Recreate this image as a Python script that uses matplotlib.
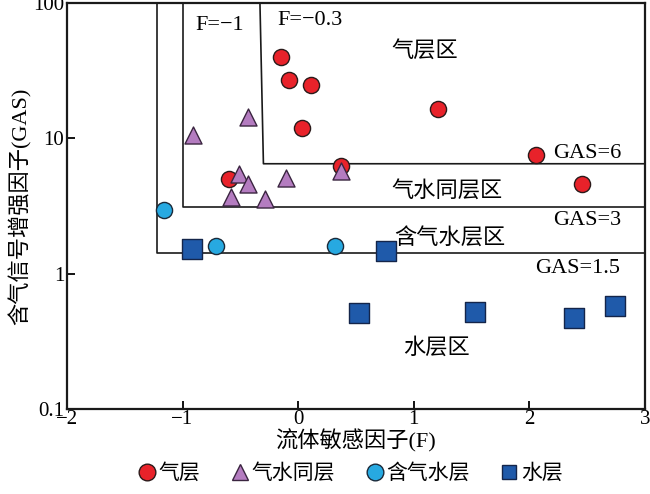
import matplotlib
matplotlib.use("Agg")
import matplotlib.pyplot as plt
from matplotlib.lines import Line2D

plt.rcParams['font.family'] = ['Liberation Serif', 'Noto Sans CJK SC']
plt.rcParams['axes.unicode_minus'] = True

# --- DATA ---
gas_f = [-0.15, -0.08, 0.11, 0.03, 1.21, 2.06, 2.46, 0.37, -0.60]
gas_v = [40, 27, 25, 12, 16.4, 7.5, 4.57, 6.3, 5.0]

mix_f = [-0.91, -0.43, -0.51, -0.43, -0.58, -0.29, -0.105, 0.375]
mix_v = [10.7, 14.5, 5.5, 4.57, 3.7, 3.55, 5.1, 5.7]

gw_f = [-1.16, -0.71, 0.32]
gw_v = [2.93, 1.59, 1.59]

wat_f = [-0.92, 0.757, 0.526, 1.53, 2.39, 2.74]
wat_v = [1.51, 1.48, 0.508, 0.52, 0.47, 0.57]

# zone boundaries (F, GAS)
b15_f, b15_g = -1.22, 1.43
b3_f, b3_g = -1.0, 3.1
b6_f_top, b6_f_bot, b6_g = -0.33, -0.30, 6.5

# --- PLOT ---
fig = plt.figure(figsize=(6.5, 4.94), dpi=100)
ax = fig.add_axes([0.103, 0.173, 0.889, 0.820])
ax.set_xlim(-2, 3)
ax.set_ylim(0.1, 100)
ax.set_yscale('log')

lc = '#1a1a1a'
lw = 1.2
ax.plot([b15_f, b15_f, 3], [100, b15_g, b15_g], color=lc, lw=lw, zorder=1)
ax.plot([b3_f, b3_f, 3], [100, b3_g, b3_g], color=lc, lw=lw, zorder=1)
ax.plot([b6_f_top, b6_f_bot, 3], [100, b6_g, b6_g], color=lc, lw=lw, zorder=1)

ec = '#2a1a1a'
ax.scatter(gas_f, gas_v, s=135, marker='o', c='#e8222a', edgecolors=ec, linewidths=1.0, zorder=3)
ax.scatter(mix_f, mix_v, s=150, marker='^', c='#b47cc0', edgecolors='#3a2540', linewidths=1.0, zorder=4)
ax.scatter(gw_f, gw_v, s=135, marker='o', c='#27a9e1', edgecolors='#1a2a3a', linewidths=1.0, zorder=3)
ax.scatter(wat_f, wat_v, s=200, marker='s', c='#1f5aaa', edgecolors='#14254a', linewidths=1.0, zorder=3)

fs = 16
ax.text(-0.89, 69, 'F=\u22121', fontsize=fs, ha='left', va='center')
ax.text(-0.175, 75, 'F=\u22120.3', fontsize=fs, ha='left', va='center')
ax.text(1.1, 44, '气层区', fontsize=fs, ha='center', va='center')
ax.text(2.5, 7.7, 'GAS=6', fontsize=fs, ha='center', va='center')
ax.text(1.29, 4.05, '气水同层区', fontsize=fs, ha='center', va='center')
ax.text(2.5, 2.47, 'GAS=3', fontsize=fs, ha='center', va='center')
ax.text(1.31, 1.82, '含气水层区', fontsize=fs, ha='center', va='center')
ax.text(2.42, 1.09, 'GAS=1.5', fontsize=fs, ha='center', va='center')
ax.text(1.2, 0.278, '水层区', fontsize=fs, ha='center', va='center')

ax.set_xticks([-2, -1, 0, 1, 2, 3])
ax.set_xticklabels(['\u22122', '\u22121', '0', '1', '2', '3'])
ax.set_yticks([0.1, 1, 10, 100])
ax.set_yticklabels(['0.1', '1', '10', '100'])
ax.minorticks_off()
ax.tick_params(direction='in', length=6, width=1.3, labelsize=15, pad=2)
ax.tick_params(axis='x', pad=1)
for sp in ax.spines.values():
    sp.set_linewidth(1.6)
    sp.set_color('#1a1a1a')

ax.set_xlabel('流体敏感因子(F)', fontsize=16, labelpad=0)
ax.set_ylabel('含气信号增强因子(GAS)', fontsize=16, labelpad=1)

handles = [
    Line2D([], [], ls='none', marker='o', ms=12, mfc='#e8222a', mec=ec, label='气层'),
    Line2D([], [], ls='none', marker='^', ms=12, mfc='#b47cc0', mec='#3a2540', label='气水同层'),
    Line2D([], [], ls='none', marker='o', ms=12, mfc='#27a9e1', mec='#1a2a3a', label='含气水层'),
    Line2D([], [], ls='none', marker='s', ms=10, mfc='#1f5aaa', mec='#14254a', label='水层'),
]
fig.legend(handles=handles, loc='center', bbox_to_anchor=(0.538, 0.04), ncol=4,
           frameon=False, fontsize=15, handletextpad=0.05, columnspacing=1.4,
           handlelength=1.0, borderaxespad=0)

fig.savefig('out.png', dpi=100)
